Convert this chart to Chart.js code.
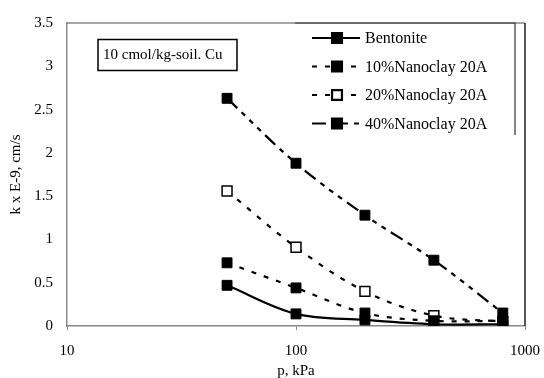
<!DOCTYPE html>
<html>
<head>
<meta charset="utf-8">
<script src="https://cdn.jsdelivr.net/npm/chart.js@4.4.1/dist/chart.umd.min.js"></script>
<style>
  html, body { margin: 0; padding: 0; background: #fff; }
  #wrap { width: 544px; height: 378px; }
</style>
</head>
<body>
<div id="wrap"><canvas id="kChart" width="544" height="378"></canvas></div>
<script>
// consolidation pressure (kPa) and hydraulic conductivity (x 1e-9 cm/s)
const pressures = [50, 100, 200, 400, 800];
const bentonite = [0.47, 0.14, 0.07, 0.02, 0.02];
const nano10 = [0.73, 0.44, 0.15, 0.06, 0.06];
const nano20 = [1.56, 0.91, 0.40, 0.12, 0.05];
const nano40 = [2.63, 1.88, 1.28, 0.76, 0.15];
const seriesNames = ["Bentonite", "10%Nanoclay 20A", "20%Nanoclay 20A", "40%Nanoclay 20A"];
const xTicks = [10, 100, 1000];
const yTicks = [0, 0.5, 1, 1.5, 2, 2.5, 3, 3.5];
const noteText = "10 cmol/kg-soil. Cu";

const SERIF = "'Liberation Serif', 'Times New Roman', serif";

function toPoints(values) {
  return pressures.map((p, i) => ({ x: p, y: values[i] }));
}

function seriesStyle(label, values, dash, open) {
  return {
    label,
    data: toPoints(values),
    borderColor: "#000",
    borderWidth: 2.2,
    borderDash: dash,
    tension: 0.35,
    pointStyle: "rect",
    pointRadius: 7,
    pointBorderWidth: open ? 1.5 : 1,
    pointBorderColor: "#000",
    pointBackgroundColor: open ? "#fff" : "#000",
  };
}

const datasets = [
  seriesStyle(seriesNames[0], bentonite, [], false),
  seriesStyle(seriesNames[1], nano10, [5, 8], false),
  seriesStyle(seriesNames[2], nano20, [5, 8], true),
  seriesStyle(seriesNames[3], nano40, [14, 6, 5, 6, 5, 6, 5, 6], false),
];

// frame, legend panel and the note box, drawn on top of the plot
const extras = {
  id: "extras",
  afterDraw(chart) {
    const { ctx, chartArea: a } = chart;
    ctx.save();
    ctx.setLineDash([]);

    // top and right edge of the plot area
    ctx.lineWidth = 1.5;
    ctx.strokeStyle = "#888";
    ctx.beginPath();
    ctx.moveTo(a.left, a.top);
    ctx.lineTo(a.right, a.top);
    ctx.stroke();
    ctx.strokeStyle = "#222";
    ctx.beginPath();
    ctx.moveTo(a.right, a.top);
    ctx.lineTo(a.right, a.bottom);
    ctx.stroke();

    // note box
    ctx.strokeStyle = "#000";
    ctx.lineWidth = 1.5;
    ctx.strokeRect(98, 39.5, 139, 31);
    ctx.fillStyle = "#000";
    ctx.font = "15px " + SERIF;
    ctx.textBaseline = "middle";
    ctx.textAlign = "left";
    ctx.fillText(noteText, 103, 55.5);

    // legend panel: only top and right border
    ctx.strokeStyle = "#333";
    ctx.lineWidth = 1.2;
    ctx.beginPath();
    ctx.moveTo(295, 23);
    ctx.lineTo(515, 23);
    ctx.lineTo(515, 135);
    ctx.stroke();

    ctx.font = "16px " + SERIF;
    chart.data.datasets.forEach((ds, i) => {
      const y = 38 + i * 28.5;
      ctx.strokeStyle = ds.borderColor;
      ctx.lineWidth = ds.borderWidth;
      ctx.setLineDash(ds.borderDash);
      ctx.beginPath();
      ctx.moveTo(312, y);
      ctx.lineTo(360, y);
      ctx.stroke();
      ctx.setLineDash([]);
      ctx.fillStyle = ds.pointBackgroundColor;
      ctx.strokeStyle = ds.pointBorderColor;
      Chart.helpers.drawPoint(ctx, {
        pointStyle: "rect",
        radius: ds.pointRadius,
        borderWidth: ds.pointBorderWidth,
      }, 337, y);
      ctx.fillStyle = "#000";
      ctx.fillText(ds.label, 365, y + 1);
    });
    ctx.restore();
  },
};

new Chart(document.getElementById("kChart"), {
  type: "line",
  data: { datasets },
  plugins: [extras],
  options: {
    responsive: false,
    animation: false,
    devicePixelRatio: 1,
    layout: { padding: { top: 21, right: 19, left: 0, bottom: 0 } },
    plugins: { legend: { display: false }, tooltip: { enabled: false } },
    scales: {
      x: {
        type: "logarithmic",
        min: 10,
        max: 1000,
        afterBuildTicks: (scale) => {
          scale.ticks = xTicks.map((v) => ({ value: v }));
        },
        afterFit: (scale) => {
          scale.height = 52;
          // the "1000" label may hang past the plot edge
          scale.paddingLeft = 0;
          scale.paddingRight = 0;
        },
        grid: { drawOnChartArea: false, tickLength: 4, color: "#888" },
        border: { color: "#888", width: 1.5 },
        ticks: {
          color: "#000",
          padding: 12,
          maxRotation: 0,
          font: { family: SERIF, size: 15 },
          callback: (v) => String(v),
        },
        title: {
          display: true,
          text: "p, kPa",
          color: "#000",
          padding: { top: 0, bottom: 0 },
          font: { family: SERIF, size: 15, lineHeight: 0.9 },
        },
      },
      y: {
        min: 0,
        max: 3.5,
        afterBuildTicks: (scale) => {
          scale.ticks = yTicks.map((v) => ({ value: v }));
        },
        afterFit: (scale) => {
          scale.width = 67;
        },
        grid: { drawOnChartArea: false, drawTicks: false },
        border: { color: "#888", width: 1.5 },
        ticks: {
          color: "#000",
          padding: 14,
          font: { family: SERIF, size: 15 },
          callback: (v) => String(v),
        },
        title: {
          display: true,
          text: "k x E-9, cm/s",
          color: "#000",
          padding: { top: 9, bottom: 0 },
          font: { family: SERIF, size: 15, lineHeight: 1 },
        },
      },
    },
  },
});
</script>
</body>
</html>
